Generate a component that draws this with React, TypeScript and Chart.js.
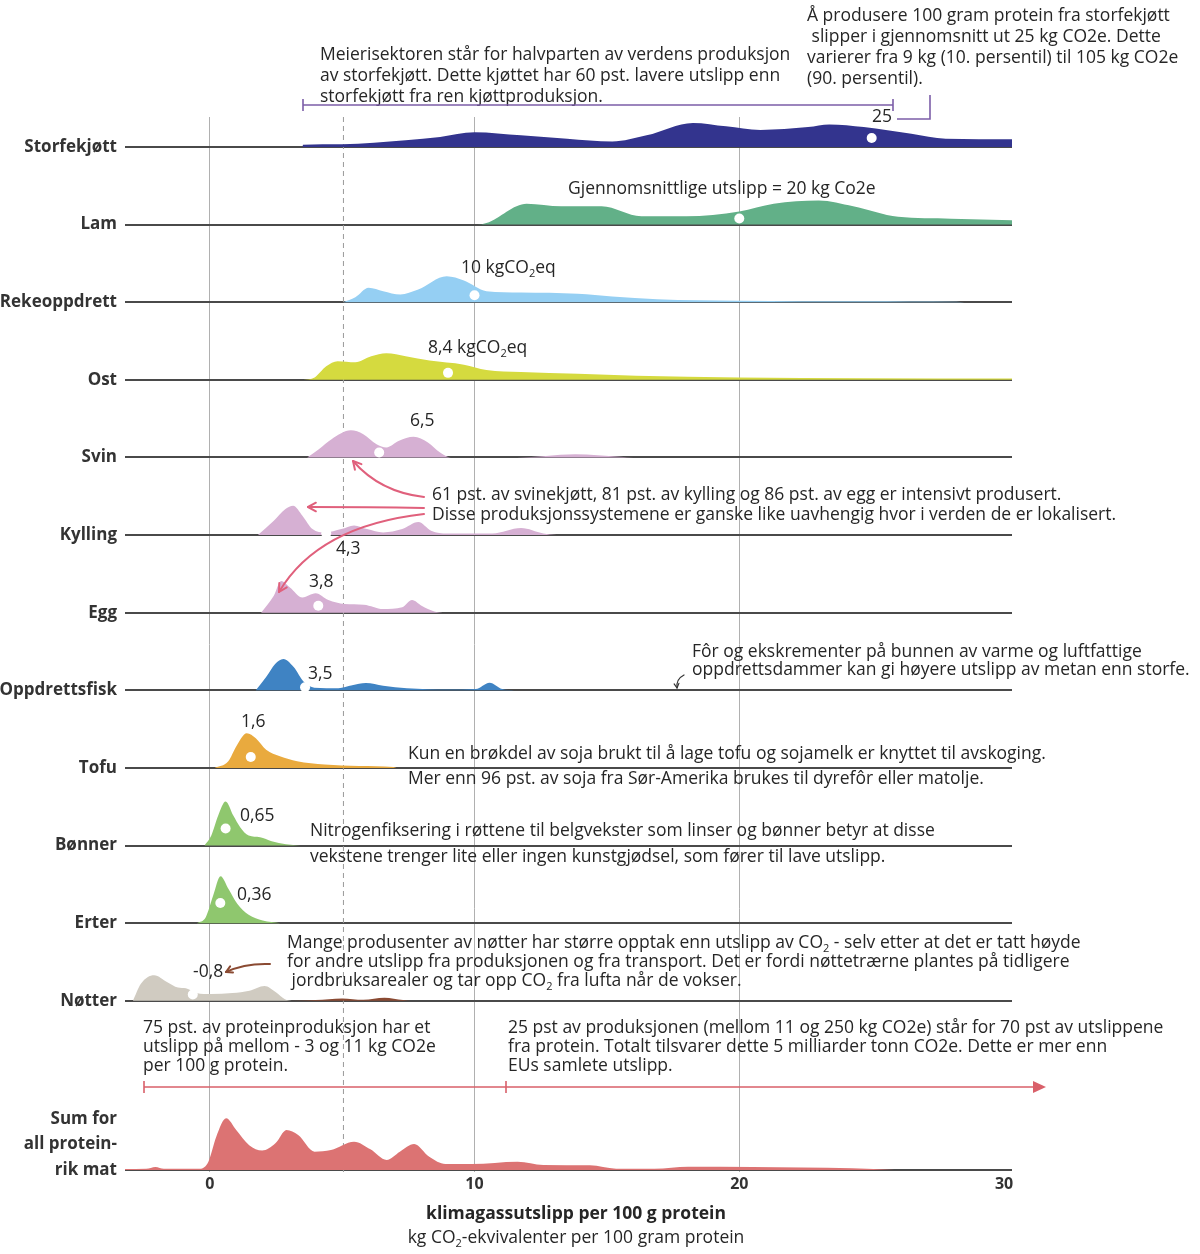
import { useEffect, useRef } from "react";
import { Chart, registerables } from "chart.js";

Chart.register(...registerables);

// ---------- data ----------
const categories = ["Storfekjøtt", "Lam", "Rekeoppdrett", "Ost", "Svin", "Kylling", "Egg", "Oppdrettsfisk", "Tofu", "Bønner", "Erter", "Nøtter"];
const sumLabel = ["Sum for", "all protein-", "rik mat"];
const xTicks = [0, 10, 20, 30];

// ridge densities: x = kg CO2e per 100 g protein, h = relative density (row heights)
const storfeX = [3.5, 3.52, 5.0, 7.4, 8.7, 10.0, 11.75, 13.5, 15.2, 16.5, 18.25, 19.5, 20.8, 22.6, 23.4, 24.7, 26.5, 27.8, 30.3];
const storfeH = [0, 0.03, 0.035, 0.086, 0.13, 0.19, 0.15, 0.107, 0.07, 0.15, 0.31, 0.266, 0.22, 0.257, 0.29, 0.257, 0.17, 0.107, 0.1];
const lamX = [9.2, 10.1, 10.45, 11.97, 13.27, 14.8, 16.3, 18.0, 20.0, 21.3, 23.0, 24.3, 26.0, 28.0, 30.3];
const lamH = [0, 0, 0.02, 0.27, 0.236, 0.236, 0.107, 0.107, 0.17, 0.27, 0.31, 0.236, 0.1, 0.077, 0.056];
const rekeX = [5.04, 5.5, 6.0, 6.55, 7.2, 7.85, 8.95, 9.6, 10.45, 11.75, 13.9, 15.2, 16.9, 20, 24.7, 28.2, 28.5];
const rekeH = [0, 0.065, 0.187, 0.143, 0.1, 0.16, 0.335, 0.28, 0.143, 0.126, 0.11, 0.074, 0.04, 0.02, 0.013, 0.005, 0];
const ostX = [3.53, 3.96, 4.4, 4.83, 5.5, 6.1, 6.67, 7.4, 8.3, 9.6, 10.45, 11.75, 13.9, 16.1, 20, 24.7, 30.3];
const ostH = [0, 0.03, 0.174, 0.24, 0.226, 0.304, 0.343, 0.304, 0.248, 0.196, 0.126, 0.1, 0.078, 0.052, 0.03, 0.022, 0.017];
const svinX = [3.68, 4.12, 4.6, 5.33, 5.8, 6.3, 6.67, 7.15, 7.7, 8.24, 8.7, 9.1, 11.6, 13.8, 15.5, 16];
const svinH = [0, 0.107, 0.236, 0.35, 0.3, 0.17, 0.129, 0.215, 0.266, 0.193, 0.064, 0, 0, 0.043, 0.01, 0];
const kyllingX = [1.82, 2.42, 2.86, 3.15, 3.5, 3.88, 4.36, 4.97, 5.45, 5.94, 6.55, 7.27, 7.88, 8.36, 8.97, 10.67, 11.76, 12.6, 13.1];
const kyllingH = [0, 0.185, 0.335, 0.378, 0.25, 0.077, 0.034, 0.077, 0.124, 0.077, 0.034, 0.077, 0.167, 0.056, 0.02, 0.02, 0.09, 0.02, 0];
const eggX = [1.94, 2.42, 2.7, 3.03, 3.5, 4.0, 4.48, 5.09, 5.82, 6.55, 7.27, 7.64, 8.0, 8.48, 8.8];
const eggH = [0, 0.22, 0.41, 0.326, 0.197, 0.25, 0.163, 0.112, 0.103, 0.047, 0.07, 0.163, 0.09, 0.017, 0];
const fiskX = [1.74, 2.13, 2.47, 2.78, 3.17, 3.56, 3.95, 4.86, 5.38, 5.9, 6.55, 7.45, 9.0, 10.05, 10.57, 11.04, 11.5];
const fiskH = [0, 0.17, 0.34, 0.404, 0.3, 0.106, 0.034, 0.026, 0.064, 0.094, 0.06, 0.026, 0.01, 0.017, 0.098, 0.017, 0];
const tofuX = [0.18, 0.7, 1.0, 1.4, 1.74, 2.13, 2.65, 3.3, 4.34, 5.64, 6.94, 7.06];
const tofuH = [0, 0.085, 0.277, 0.447, 0.383, 0.234, 0.149, 0.085, 0.043, 0.026, 0.013, 0];
const bonnerX = [-0.2, 0.06, 0.32, 0.6, 0.89, 1.15, 1.47, 1.9, 2.34, 2.88, 3.42];
const bonnerH = [0, 0.129, 0.386, 0.567, 0.386, 0.236, 0.129, 0.107, 0.056, 0.017, 0];
const erterX = [-0.48, -0.15, 0.13, 0.41, 0.71, 1.04, 1.47, 2.0, 2.66];
const erterH = [0, 0.077, 0.356, 0.605, 0.44, 0.249, 0.107, 0.034, 0];
const notterX = [-2.9, -2.6, -2.1, -1.6, -1.2, -0.9, -0.5, 0.05, 0.86, 1.5, 2.07, 2.5, 2.84, 3.1];
const notterH = [0, 0.22, 0.33, 0.24, 0.17, 0.16, 0.1, 0.086, 0.1, 0.13, 0.19, 0.11, 0.02, 0];
const notterBrownX = [3.0, 4.0, 5.0, 5.8, 6.6, 7.3, 7.6];
const notterBrownH = [0, 0.01, 0.03, 0.012, 0.04, 0.01, 0];
const sumX = [-3.2, -2.4, -2.05, -1.73, -0.37, -0.05, 0.25, 0.62, 1.0, 1.49, 1.98, 2.48, 2.9, 3.34, 3.96, 4.58, 5.45, 6.07, 6.68, 7.18, 7.72, 8.29, 8.9, 9.9, 11.63, 12.6, 14.36, 15.35, 16.8, 18.07, 20.5, 24.26, 25.87];
const sumH = [0.013, 0.015, 0.04, 0.017, 0.017, 0.107, 0.43, 0.665, 0.515, 0.32, 0.25, 0.343, 0.515, 0.45, 0.236, 0.257, 0.365, 0.266, 0.129, 0.236, 0.335, 0.17, 0.077, 0.077, 0.107, 0.064, 0.06, 0.017, 0.017, 0.043, 0.039, 0.021, 0];

// mean markers
const meanX = [25, 20, 10, 9, 6.4, 4.4, 4.1, 3.6, 1.55, 0.6, 0.4, -0.64];
const meanH = [0.116, 0.08, 0.09, 0.09, 0.065, 0.025, 0.09, 0.04, 0.14, 0.22, 0.26, 0.08];

const dashedX = 5.05;

// ---------- styling ----------
const FONT = '"Open Sans", "Noto Sans", "DejaVu Sans", sans-serif';
const TXT = "#262626";
const TSIZE = 17.5;
const SUM_GAP = 2.18;

const ridges = [
  { x: storfeX, h: storfeH, row: 0, color: "#33348e" },
  { x: lamX, h: lamH, row: 1, color: "#62b088" },
  { x: rekeX, h: rekeH, row: 2, color: "#95cff3" },
  { x: ostX, h: ostH, row: 3, color: "#d5da3f" },
  { x: svinX, h: svinH, row: 4, color: "#d6b0d3" },
  { x: kyllingX, h: kyllingH, row: 5, color: "#d6b0d3" },
  { x: eggX, h: eggH, row: 6, color: "#d6b0d3" },
  { x: fiskX, h: fiskH, row: 7, color: "#3f83c3" },
  { x: tofuX, h: tofuH, row: 8, color: "#e9aa3e" },
  { x: bonnerX, h: bonnerH, row: 9, color: "#8fc76e" },
  { x: erterX, h: erterH, row: 10, color: "#8fc76e" },
  { x: notterX, h: notterH, row: 11, color: "#d0cbc1" },
  { x: notterBrownX, h: notterBrownH, row: 11, color: "#8a4a32" },
];

const rowBase = (row: number) => (row === -1 ? -(categories.length - 1) - SUM_GAP : -row);

type T = { t: string; x: number; y: number; align?: "left" | "center" | "right"; bold?: boolean; size?: number };
const texts: T[] = [
  { t: "Meierisektoren står for halvparten av verdens produksjon", x: 320, y: 55 },
  { t: "av storfekjøtt. Dette kjøttet har 60 pst. lavere utslipp enn", x: 320, y: 76 },
  { t: "storfekjøtt fra ren kjøttproduksjon.", x: 320, y: 97 },
  { t: "Å produsere 100 gram protein fra storfekjøtt", x: 807, y: 16 },
  { t: " slipper i gjennomsnitt ut 25 kg CO2e. Dette", x: 807, y: 37 },
  { t: "varierer fra 9 kg (10. persentil) til 105 kg CO2e", x: 807, y: 58 },
  { t: "(90. persentil).", x: 807, y: 79 },
  { t: "25", x: 882, y: 117, align: "center" },
  { t: "Gjennomsnittlige utslipp = 20 kg Co2e", x: 568, y: 189 },
  { t: "10 kgCO₂eq", x: 461, y: 268 },
  { t: "8,4 kgCO₂eq", x: 428, y: 348 },
  { t: "6,5", x: 410, y: 421 },
  { t: "61 pst. av svinekjøtt, 81 pst. av kylling og 86 pst. av egg er intensivt produsert.", x: 432, y: 495 },
  { t: "Disse produksjonssystemene er ganske like uavhengig hvor i verden de er lokalisert.", x: 432, y: 515 },
  { t: "4,3", x: 336, y: 549 },
  { t: "3,8", x: 309, y: 582 },
  { t: "Fôr og ekskrementer på bunnen av varme og luftfattige", x: 692, y: 652 },
  { t: "oppdrettsdammer kan gi høyere utslipp av metan enn storfe.", x: 692, y: 670 },
  { t: "3,5", x: 308, y: 674 },
  { t: "1,6", x: 241, y: 722 },
  { t: "Kun en brøkdel av soja brukt til å lage tofu og sojamelk er knyttet til avskoging.", x: 408, y: 754 },
  { t: "Mer enn 96 pst. av soja fra Sør-Amerika brukes til dyrefôr eller matolje.", x: 408, y: 779 },
  { t: "0,65", x: 240, y: 816 },
  { t: "Nitrogenfiksering i røttene til belgvekster som linser og bønner betyr at disse", x: 310, y: 831 },
  { t: "vekstene trenger lite eller ingen kunstgjødsel, som fører til lave utslipp.", x: 310, y: 857 },
  { t: "0,36", x: 237, y: 895 },
  { t: "Mange produsenter av nøtter har større opptak enn utslipp av CO₂ - selv etter at det er tatt høyde", x: 287, y: 943 },
  { t: "for andre utslipp fra produksjonen og fra transport. Det er fordi nøttetrærne plantes på tidligere", x: 287, y: 962 },
  { t: " jordbruksarealer og tar opp CO₂ fra lufta når de vokser.", x: 287, y: 981 },
  { t: "-0,8", x: 193, y: 972 },
  { t: "75 pst. av proteinproduksjon har et", x: 143, y: 1028 },
  { t: "utslipp på mellom - 3 og 11 kg CO2e", x: 143, y: 1047 },
  { t: "per 100 g protein.", x: 143, y: 1066 },
  { t: "25 pst av produksjonen (mellom 11 og 250 kg CO2e) står for 70 pst av utslippene", x: 508, y: 1028 },
  { t: "fra protein. Totalt tilsvarer dette 5 milliarder tonn CO2e. Dette er mer enn", x: 508, y: 1047 },
  { t: "EUs samlete utslipp.", x: 508, y: 1066 },
  { t: "klimagassutslipp per 100 g protein", x: 576, y: 1214, align: "center", bold: true },
  { t: "kg CO₂-ekvivalenter per 100 gram protein", x: 576, y: 1238, align: "center" },
];

function richText(ctx: CanvasRenderingContext2D, s: string, x: number, y: number, size: number, bold: boolean, align: string) {
  const parts = s.split("₂");
  const main = `${bold ? "700 " : ""}${size}px ${FONT}`;
  const sub = `${bold ? "700 " : ""}${Math.round(size * 0.65)}px ${FONT}`;
  const ws: number[] = [];
  let w = 0;
  ctx.font = sub;
  const subW = ctx.measureText("2").width;
  ctx.font = main;
  parts.forEach((p, i) => {
    const a = ctx.measureText(p).width;
    ws.push(a);
    w += a + (i < parts.length - 1 ? subW : 0);
  });
  let cx = align === "center" ? x - w / 2 : align === "right" ? x - w : x;
  ctx.textBaseline = "middle";
  ctx.textAlign = "left";
  parts.forEach((p, i) => {
    ctx.font = main;
    ctx.fillText(p, cx, y);
    cx += ws[i];
    if (i < parts.length - 1) {
      ctx.font = sub;
      ctx.fillText("2", cx, y + size * 0.32);
      cx += subW;
    }
  });
}

function curveArrow(ctx: CanvasRenderingContext2D, x0: number, y0: number, cx: number, cy: number, x1: number, y1: number, color: string, lw: number, head: number) {
  ctx.save();
  ctx.strokeStyle = color;
  ctx.lineWidth = lw;
  ctx.lineCap = "round";
  ctx.lineJoin = "round";
  ctx.beginPath();
  ctx.moveTo(x0, y0);
  ctx.quadraticCurveTo(cx, cy, x1, y1);
  ctx.stroke();
  const a = Math.atan2(y1 - cy, x1 - cx);
  ctx.beginPath();
  ctx.moveTo(x1 - head * Math.cos(a - 0.5), y1 - head * Math.sin(a - 0.5));
  ctx.lineTo(x1, y1);
  ctx.lineTo(x1 - head * Math.cos(a + 0.5), y1 - head * Math.sin(a + 0.5));
  ctx.stroke();
  ctx.restore();
}

const annotPlugin = {
  id: "annot",
  beforeDatasetsDraw(chart: any) {
    const { ctx, chartArea, scales } = chart;
    const x = scales.x.getPixelForValue(dashedX);
    ctx.save();
    ctx.strokeStyle = "#9a9a9a";
    ctx.lineWidth = 1;
    ctx.setLineDash([5, 4]);
    ctx.beginPath();
    ctx.moveTo(x, chartArea.top);
    ctx.lineTo(x, chartArea.bottom);
    ctx.stroke();
    ctx.restore();
  },
  afterDraw(chart: any) {
    const { ctx, scales } = chart;
    ctx.save();
    ctx.fillStyle = TXT;
    texts.forEach((o) => richText(ctx, o.t, o.x, o.y, o.size || TSIZE, !!o.bold, o.align || "left"));

    // sum label upper lines
    const sy = scales.y.getPixelForValue(rowBase(-1));
    ctx.fillStyle = "#333";
    ctx.font = `700 17px ${FONT}`;
    ctx.textAlign = "right";
    ctx.textBaseline = "middle";
    ctx.fillText(sumLabel[0], 117, sy - 51);
    ctx.fillText(sumLabel[1], 117, sy - 26);

    // purple bracket (storfekjøtt)
    ctx.strokeStyle = "#7c5ea8";
    ctx.lineWidth = 1.6;
    ctx.beginPath();
    ctx.moveTo(303, 105); ctx.lineTo(893, 105);
    ctx.moveTo(303, 99); ctx.lineTo(303, 111);
    ctx.moveTo(893, 99); ctx.lineTo(893, 111);
    ctx.moveTo(897, 119); ctx.lineTo(930, 119); ctx.lineTo(930, 95);
    ctx.stroke();

    // red arrows (intensive production)
    const pink = "#e0607c";
    curveArrow(ctx, 424, 497, 380, 492, 353, 461, pink, 2, 9);
    curveArrow(ctx, 424, 508, 370, 507, 308, 507, pink, 2, 9);
    curveArrow(ctx, 424, 514, 318, 526, 279, 592, pink, 2, 9);

    // fish small arrow
    curveArrow(ctx, 684, 675, 676, 679, 677, 688, "#333", 1.2, 5);

    // nuts arrow
    curveArrow(ctx, 270, 964, 245, 963, 226, 972, "#8a4a32", 2, 7);

    // bottom red range line
    ctx.strokeStyle = "#d9606a";
    ctx.fillStyle = "#d9606a";
    ctx.lineWidth = 1.6;
    ctx.beginPath();
    ctx.moveTo(144, 1087); ctx.lineTo(1036, 1087);
    ctx.moveTo(144, 1081); ctx.lineTo(144, 1093);
    ctx.moveTo(506, 1081); ctx.lineTo(506, 1093);
    ctx.stroke();
    ctx.beginPath();
    ctx.moveTo(1046, 1087); ctx.lineTo(1033, 1081); ctx.lineTo(1033, 1093); ctx.closePath();
    ctx.fill();
    ctx.restore();
  },
};

export default function App() {
  const ref = useRef<HTMLCanvasElement | null>(null);
  useEffect(() => {
    if (!ref.current) return;
    const nRows = categories.length;
    const sumBase = rowBase(-1);
    const datasets: any[] = ridges.map((r) => {
      const base = rowBase(r.row);
      return {
        data: r.x.map((x, j) => ({ x, y: base + r.h[j] })),
        fill: { value: base },
        backgroundColor: r.color,
        borderColor: "rgba(0,0,0,0)",
        borderWidth: 0,
        pointRadius: 0,
        cubicInterpolationMode: "monotone",
        order: 2,
      };
    });
    datasets.push({
      data: sumX.map((x, j) => ({ x, y: sumBase + sumH[j] })),
      fill: { value: sumBase },
      backgroundColor: "#dc7373",
      borderColor: "rgba(0,0,0,0)",
      borderWidth: 0,
      pointRadius: 0,
      cubicInterpolationMode: "monotone",
      order: 2,
    });
    datasets.push({
      data: meanX.map((x, i) => ({ x, y: rowBase(i) + meanH[i] })),
      showLine: false,
      pointRadius: 5,
      pointBackgroundColor: "#ffffff",
      pointBorderWidth: 0,
      borderColor: "rgba(0,0,0,0)",
      order: 0,
    });

    const yTickVals = [...categories.map((_, i) => rowBase(i)), sumBase];
    const chart = new Chart(ref.current, {
      type: "line",
      data: { datasets },
      plugins: [annotPlugin],
      options: {
        animation: false,
        responsive: false,
        devicePixelRatio: 1,
        layout: { padding: { top: 117, right: 188, bottom: 0, left: 0 } },
        plugins: { legend: { display: false }, tooltip: { enabled: false } },
        scales: {
          x: {
            type: "linear",
            min: -3.2,
            max: 30.3,
            afterBuildTicks: (s: any) => {
              s.ticks = xTicks.map((v) => ({ value: v }));
            },
            afterFit: (s: any) => {
              s.height = 82;
            },
            ticks: { font: { family: FONT, size: 16, weight: "bold" }, color: "#333", padding: 3, maxRotation: 0 },
            grid: {
              drawTicks: false,
              lineWidth: 1,
              color: (c: any) => (c.tick && c.tick.value === 30 ? "rgba(0,0,0,0)" : "#b0b0b0"),
            },
            border: { display: false },
          },
          y: {
            type: "linear",
            min: sumBase - 0.026,
            max: 0.3866,
            afterBuildTicks: (s: any) => {
              s.ticks = yTickVals.map((v) => ({ value: v }));
            },
            afterFit: (s: any) => {
              s.width = 125;
            },
            ticks: {
              font: { family: FONT, size: 17, weight: "bold" },
              color: "#333",
              padding: 8,
              callback: (_v: any, i: number) => (i < nRows ? categories[i] : sumLabel[2]),
            },
            grid: { drawTicks: false, color: "#4a4a4a", lineWidth: 2 },
            border: { display: false },
          },
        },
      } as any,
    });
    return () => chart.destroy();
  }, []);
  return (
    <div style={{ position: "absolute", left: 0, top: 0, width: 1200, height: 1254 }}>
      <canvas ref={ref} width={1200} height={1254} style={{ width: 1200, height: 1254 }} />
    </div>
  );
}
